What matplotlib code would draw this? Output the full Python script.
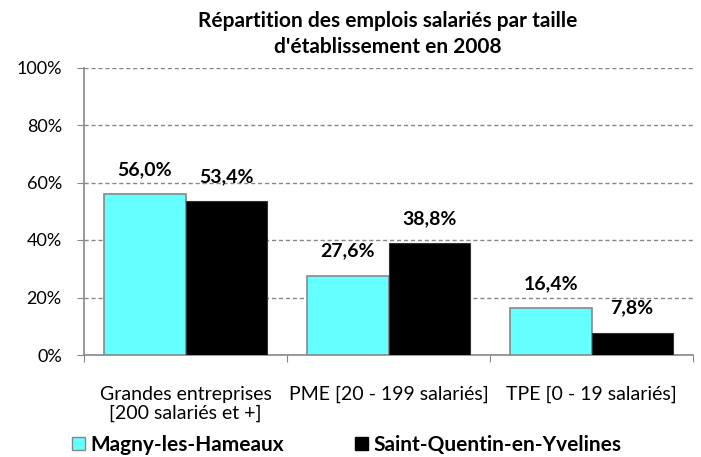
import matplotlib.pyplot as plt
import numpy as np
from matplotlib.patches import Patch

plt.rcParams['font.family'] = ['Lato', 'DejaVu Sans']

categories = ["Grandes entreprises\n[200 salariés et +]", "PME [20 - 199 salariés]", "TPE [0 - 19 salariés]"]
series_names = ["Magny-les-Hameaux", "Saint-Quentin-en-Yvelines"]
magny = [56.0, 27.6, 16.4]
sqy = [53.4, 38.8, 7.8]

fig = plt.figure(figsize=(7.01, 4.57), dpi=100)
ax = fig.add_axes([84 / 701, 1 - 355 / 457, (693 - 84) / 701, (355 - 67.5) / 457])

x = np.arange(len(categories))
w = 0.4
b1 = ax.bar(x - w / 2, magny, w, color='#66ffff', edgecolor='#888888', linewidth=1.2, zorder=3)
b2 = ax.bar(x + w / 2, sqy, w, color='black', edgecolor='#333333', linewidth=0.8, zorder=3)

for bars in (b1, b2):
    for r in bars:
        ax.annotate(f"{r.get_height():.1f}%".replace('.', ','),
                    (r.get_x() + r.get_width() / 2, r.get_height()),
                    xytext=(0, 11.5), textcoords='offset points',
                    ha='center', va='bottom', fontsize=14, fontweight='bold')

ax.set_xlim(-0.5, 2.5)
ax.set_ylim(0, 100)
ax.set_yticks(range(0, 101, 20))
ax.set_yticklabels([f"{v}%" for v in range(0, 101, 20)], fontsize=13)
ax.yaxis.grid(True, linestyle='--', color='#888888', linewidth=1, dashes=(3, 2))
ax.set_axisbelow(True)

ax.set_xticks([-0.5, 0.5, 1.5, 2.5])
ax.set_xticklabels([])
ax.set_xticks(x, minor=True)
ax.set_xticklabels(categories, minor=True, fontsize=14, linespacing=1.15)
ax.tick_params(axis='x', which='minor', length=0, pad=22)
ax.tick_params(axis='x', which='major', length=5, color='#888888', direction='out')
ax.tick_params(axis='y', length=5, color='#888888', pad=11)

for s in ('top', 'right'):
    ax.spines[s].set_visible(False)
for s in ('left', 'bottom'):
    ax.spines[s].set_color('#888888')
    ax.spines[s].set_linewidth(1.2)

fig.text(388 / 701, 1 - 34 / 457, "Répartition des emplois salariés par taille\nd'établissement en 2008",
         ha='center', va='center', fontsize=15, fontweight='bold', linespacing=1.35)

handles = [Patch(facecolor='#66ffff', edgecolor='#888888'), Patch(facecolor='black', edgecolor='black')]
leg = fig.legend(handles, series_names, loc='center left', bbox_to_anchor=(72 / 701, 1 - 445 / 457),
                 ncol=2, frameon=False, prop={'size': 15, 'weight': 'bold'},
                 borderpad=0, borderaxespad=0,
                 handlelength=0.62, handleheight=0.62, handletextpad=0.24, columnspacing=3.45)

fig.savefig("out.png", dpi=100)
